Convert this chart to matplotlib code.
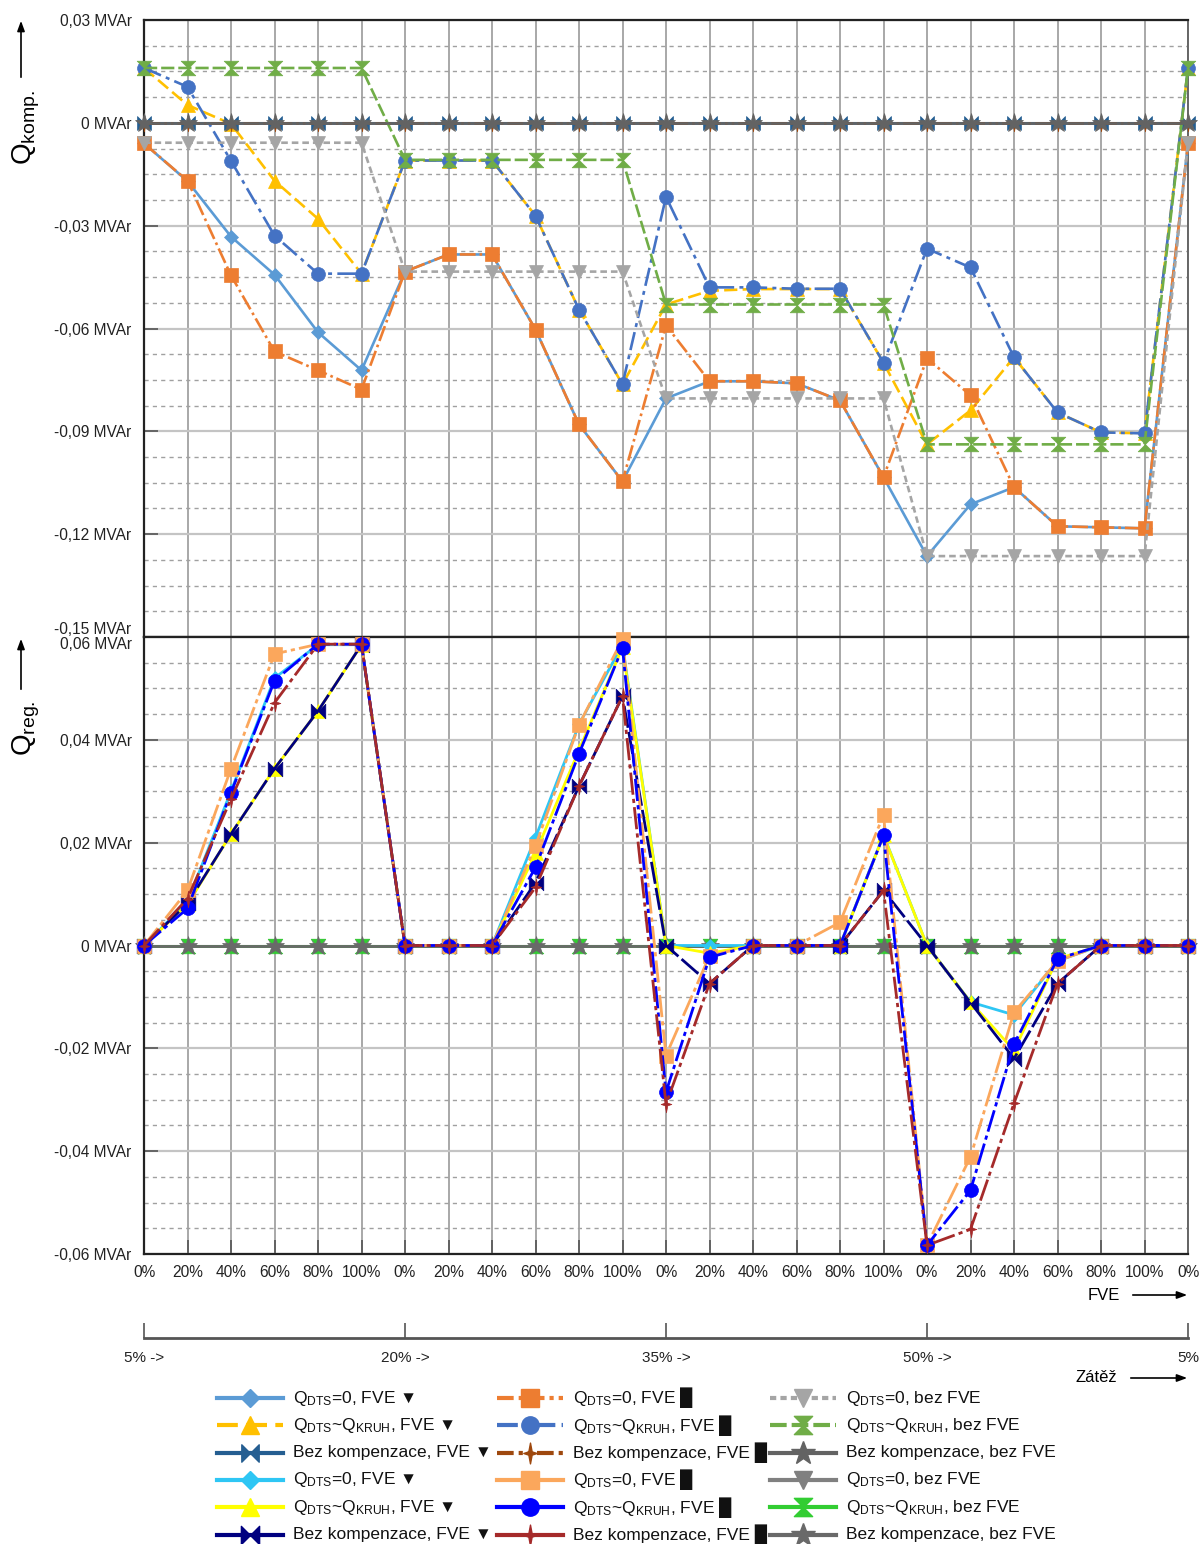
import numpy as np
import matplotlib
matplotlib.use("Agg")
import matplotlib.pyplot as plt
from matplotlib.path import Path
from matplotlib.ticker import FixedLocator, MultipleLocator

plt.rcParams['font.family'] = ['Liberation Sans', 'DejaVu Sans']
plt.rcParams['mathtext.fontset'] = 'custom'
plt.rcParams['mathtext.rm'] = 'Liberation Sans'
plt.rcParams['mathtext.it'] = 'Liberation Sans:italic'

W, H = 1199, 1544

# x axis: FVE output level within each load level (Zatez)
fveLevels = ["0%", "20%", "40%", "60%", "80%", "100%"]
loadLabels = ["5% ->", "20% ->", "35% ->", "50% ->", "5%"]
xLabels = fveLevels * 4 + ["0%"]
x = np.arange(len(xLabels))

# Q_komp [MVAr]
komp_q0_fveA = [-0.006, -0.017, -0.0332, -0.0443, -0.0611, -0.0722,
                -0.0434, -0.0384, -0.0384, -0.0603, -0.088, -0.1046,
                -0.0804, -0.0754, -0.0754, -0.076, -0.081, -0.1034,
                -0.1264, -0.1113, -0.1063, -0.1177, -0.118, -0.1183,
                -0.006]
komp_qk_fveA = [0.016, 0.0052, -0.0003, -0.0169, -0.028, -0.044,
                -0.011, -0.011, -0.011, -0.0271, -0.0545, -0.0763,
                -0.053, -0.049, -0.0485, -0.0485, -0.0485, -0.070,
                -0.0938, -0.0839, -0.0684, -0.0845, -0.0903, -0.0906,
                0.016]
komp_bez_fveA = [0, 0, 0, 0, 0, 0, 0, 0, 0, 0, 0, 0, 0,
                 0, 0, 0, 0, 0, 0, 0, 0, 0, 0, 0, 0]
komp_q0_fveB = [-0.006, -0.0169, -0.0445, -0.0667, -0.0722, -0.0778,
                -0.0434, -0.0384, -0.0384, -0.0603, -0.088, -0.1046,
                -0.0591, -0.0754, -0.0754, -0.076, -0.081, -0.1034,
                -0.0687, -0.0795, -0.1063, -0.1177, -0.118, -0.1183,
                -0.006]
komp_qk_fveB = [0.016, 0.0105, -0.0111, -0.0329, -0.044, -0.044,
                -0.011, -0.011, -0.011, -0.0271, -0.0545, -0.0763,
                -0.0216, -0.048, -0.048, -0.0484, -0.0484, -0.070,
                -0.0367, -0.0422, -0.0684, -0.0845, -0.0903, -0.0906,
                0.016]
komp_bez_fveB = [0, 0, 0, 0, 0, 0, 0, 0, 0, 0, 0, 0, 0,
                 0, 0, 0, 0, 0, 0, 0, 0, 0, 0, 0, 0]
komp_q0_noFve = [-0.0058, -0.0058, -0.0058, -0.0058, -0.0058, -0.0058,
                 -0.0434, -0.0434, -0.0434, -0.0434, -0.0434, -0.0434,
                 -0.0804, -0.0804, -0.0804, -0.0804, -0.0804, -0.0804,
                 -0.1264, -0.1264, -0.1264, -0.1264, -0.1264, -0.1264,
                 -0.0058]
komp_qk_noFve = [0.016, 0.016, 0.016, 0.016, 0.016, 0.016,
                 -0.0108, -0.0108, -0.0108, -0.0108, -0.0108, -0.0108,
                 -0.053, -0.053, -0.053, -0.053, -0.053, -0.053,
                 -0.0938, -0.0938, -0.0938, -0.0938, -0.0938, -0.0938,
                 0.016]
komp_bez_noFve = [0, 0, 0, 0, 0, 0, 0, 0, 0, 0, 0, 0, 0,
                  0, 0, 0, 0, 0, 0, 0, 0, 0, 0, 0, 0]

# Q_reg [MVAr]
reg_q0_fveA = [0, 0.0085, 0.03, 0.052, 0.0585, 0.0585,
               0, 0, 0, 0.021, 0.043, 0.0585,
               0, 0, 0, 0, 0, 0.0215,
               0, -0.011, -0.0135, -0.003, 0, 0, 0]
reg_qk_fveA = [0, 0.008, 0.0217, 0.0344, 0.0456, 0.0585,
               0, 0, 0, 0.018, 0.038, 0.058,
               0, -0.0015, 0, 0, 0, 0.0214,
               0, -0.011, -0.0204, -0.0026, 0, 0, 0]
reg_bez_fveA = [0, 0.0082, 0.0217, 0.0344, 0.0456, 0.0585,
                0, 0, 0, 0.0122, 0.031, 0.0485,
                0, -0.0074, 0, 0, 0, 0.0107,
                0, -0.0111, -0.022, -0.0074, 0, 0, 0]
reg_q0_fveB = [0, 0.0107, 0.0344, 0.0567, 0.0586, 0.0586,
               0, 0, 0, 0.0194, 0.0429, 0.0596,
               -0.0214, -0.002, 0, 0, 0.0045, 0.0254,
               -0.0583, -0.0411, -0.013, -0.003, 0, 0, 0]
reg_qk_fveB = [0, 0.0072, 0.0297, 0.0515, 0.0586, 0.0586,
               0, 0, 0, 0.0152, 0.0373, 0.0579,
               -0.0285, -0.0023, 0, 0, 0, 0.0214,
               -0.0583, -0.0476, -0.0192, -0.0026, 0, 0, 0]
reg_bez_fveB = [0, 0.0091, 0.0285, 0.0472, 0.0586, 0.0586,
                0, 0, 0, 0.0113, 0.031, 0.0485,
                -0.0309, -0.0074, 0, 0, 0, 0.0107,
                -0.0583, -0.0552, -0.0307, -0.0074, 0, 0, 0]
reg_q0_noFve = [0, 0, 0, 0, 0, 0, 0, 0, 0, 0, 0, 0, 0,
                0, 0, 0, 0, 0, 0, 0, 0, 0, 0, 0, 0]
reg_qk_noFve = [0, 0, 0, 0, 0, 0, 0, 0, 0, 0, 0, 0, 0,
                0, 0, 0, 0, 0, 0, 0, 0, 0, 0, 0, 0]
reg_bez_noFve = [0, 0, 0, 0, 0, 0, 0, 0, 0, 0, 0, 0, 0,
                 0, 0, 0, 0, 0, 0, 0, 0, 0, 0, 0, 0]

# custom markers
bowtie = Path([(-1, -1), (-1, 1), (0, 0), (1, 1), (1, -1), (0, 0), (-1, -1)],
              [Path.MOVETO] + [Path.LINETO] * 5 + [Path.CLOSEPOLY])
hourglass = Path([(-1, 1), (1, 1), (0, 0), (1, -1), (-1, -1), (0, 0), (-1, 1)],
                 [Path.MOVETO] + [Path.LINETO] * 5 + [Path.CLOSEPOLY])
star4 = Path([(0, 1.4), (0.22, 0.22), (0.9, 0), (0.22, -0.22), (0, -1.4),
              (-0.22, -0.22), (-0.9, 0), (-0.22, 0.22), (0, 1.4)],
             [Path.MOVETO] + [Path.LINETO] * 7 + [Path.CLOSEPOLY])

TRI = " \u25BC"
BLK = " \u2588"
lblQ0 = r"Q$_{\mathregular{DTS}}$=0, FVE"
lblQK = r"Q$_{\mathregular{DTS}}$~Q$_{\mathregular{KRUH}}$, FVE"
lblBez = "Bez kompenzace, FVE"
lblQ0n = r"Q$_{\mathregular{DTS}}$=0, bez FVE"
lblQKn = r"Q$_{\mathregular{DTS}}$~Q$_{\mathregular{KRUH}}$, bez FVE"
lblBezn = "Bez kompenzace, bez FVE"

# (values, label, color, line style in chart, line style in legend, marker, size)
kompSeries = [
    (komp_q0_fveA, lblQ0 + TRI, '#5B9BD5', '-', '-', 'D', 7.5),
    (komp_qk_fveA, lblQK + TRI, '#FFC000', (0, (5, 2)), (0, (5, 2)), '^', 10),
    (komp_bez_fveA, lblBez + TRI, '#255E91', '-', '-', bowtie, 10),
    (komp_q0_fveB, lblQ0 + BLK, '#ED7D31', (0, (6, 1.5, 1, 1.5)), (0, (4, 1.2, 1, 1.2)), 's', 10),
    (komp_qk_fveB, lblQK + BLK, '#4472C4', (0, (7, 2, 1.5, 2)), (0, (5, 1.5, 1, 1.5)), 'o', 10),
    (komp_bez_fveB, lblBez + BLK, '#9E480E', (0, (6, 1.5, 1, 1.5, 1, 1.5)), (0, (4, 1.2, 1, 1.2, 1, 1.2)), star4, 12),
    (komp_q0_noFve, lblQ0n, '#A5A5A5', (0, (2.5, 1.5)), (0, (1.5, 1)), 'v', 10),
    (komp_qk_noFve, lblQKn, '#70AD47', (0, (5, 1.5)), (0, (4, 1.2)), hourglass, 10.5),
    (komp_bez_noFve, lblBezn, '#636363', '-', '-', '*', 14),
]
regSeries = [
    (reg_q0_fveA, lblQ0 + TRI, '#2EC6F4', '-', '-', 'D', 7.5),
    (reg_qk_fveA, lblQK + TRI, '#FFFF00', '-', '-', '^', 10),
    (reg_bez_fveA, lblBez + TRI, '#000080', (0, (8, 1.5)), '-', bowtie, 10.5),
    (reg_q0_fveB, lblQ0 + BLK, '#FBA75C', (0, (8, 1.5, 1.5, 1.5)), '-', 's', 10),
    (reg_qk_fveB, lblQK + BLK, '#0000FF', (0, (8, 1.5, 1.5, 1.5)), '-', 'o', 10),
    (reg_bez_fveB, lblBez + BLK, '#A52A2A', (0, (8, 1.5, 1.5, 1.5)), '-', star4, 12),
    (reg_q0_noFve, lblQ0n, '#808080', '-', '-', 'v', 10),
    (reg_qk_noFve, lblQKn, '#32CD32', '-', '-', hourglass, 10.5),
    (reg_bez_noFve, lblBezn, '#696969', '-', '-', '*', 14),
]

fig = plt.figure(figsize=(W / 100, H / 100), dpi=100)
left, width = 144 / W, 1044 / W
axK = fig.add_axes([left, 1 - 637 / H, width, 617 / H])
axR = fig.add_axes([left, 1 - 1254 / H, width, 617 / H])


def mvar(v):
    if abs(v) < 1e-9:
        return "0 MVAr"
    return ("%.2f" % v).replace('.', ',') + " MVAr"


def styleAxis(ax, ylo, yhi, major, minor):
    ax.set_xlim(0, 24)
    ax.set_ylim(ylo, yhi)
    ticks = np.round(np.arange(ylo, yhi + major / 2, major), 4)
    ax.yaxis.set_major_locator(FixedLocator(ticks))
    ax.set_yticklabels([mvar(t) for t in ticks])
    ax.yaxis.set_minor_locator(MultipleLocator(minor))
    ax.set_xticks(x)
    ax.grid(which='major', axis='x', color='#a8a8a8', lw=1.4, ls='-')
    ax.grid(which='major', axis='y', color='#c4c4c4', lw=1.6, ls='-')
    ax.grid(which='minor', axis='y', color='#a0a0a0', lw=1.0, ls=(0, (3, 3)))
    ax.set_axisbelow(True)
    ax.tick_params(axis='y', which='major', direction='in', length=10, width=1.2,
                   color='#555555', labelsize=11.2, pad=9, labelcolor='#222222')
    ax.tick_params(axis='y', which='minor', length=0)
    for s in ['left', 'top', 'bottom']:
        ax.spines[s].set_color('#222222')
        ax.spines[s].set_linewidth(1.6)
    ax.spines['right'].set_color('#666666')
    ax.spines['right'].set_linewidth(1.4)


styleAxis(axK, -0.15, 0.03, 0.03, 0.0075)
styleAxis(axR, -0.06, 0.06, 0.02, 0.005)
axK.tick_params(axis='x', length=0, labelbottom=False)
axR.set_xticklabels(xLabels)
axR.tick_params(axis='x', direction='in', length=10, width=1.2, color='#555555',
                labelsize=11.2, pad=8, labelcolor='#222222')

# the two panels share one border: shift the colliding labels apart
axK.yaxis.get_major_ticks()[0].label1.set_va('bottom')
axR.yaxis.get_major_ticks()[-1].label1.set_va('top')

for vals, lbl, c, ls, _, m, ms in kompSeries:
    axK.plot(x, vals, color=c, lw=1.9, ls=ls, marker=m, ms=ms, mfc=c, mec=c,
             mew=0.5, clip_on=False, zorder=3)

# without FVE the curves are flat; draw them first so the FVE markers stay on top
regOrder = regSeries[6:] + regSeries[:6]
for vals, lbl, c, ls, _, m, ms in regOrder:
    axR.plot(x, vals, color=c, lw=2.0, ls=ls, marker=m, ms=ms, mfc=c, mec=c,
             mew=0.5, clip_on=False, zorder=3)

# axis captions with arrows
fig.text(26 / W, 1 - 128 / H, r"Q$_{\mathregular{komp.}}$", rotation=90,
         ha='center', va='center', fontsize=20)
fig.text(26 / W, 1 - 728 / H, r"Q$_{\mathregular{reg.}}$", rotation=90,
         ha='center', va='center', fontsize=20)
arrowKw = dict(arrowstyle='-|>,head_length=0.6,head_width=0.22', color='black', lw=1.2)
fig.add_artist(plt.Annotation('', xy=(21, H - 18), xytext=(21, H - 80),
                              xycoords='figure pixels', arrowprops=arrowKw))
fig.add_artist(plt.Annotation('', xy=(21, H - 636), xytext=(21, H - 692),
                              xycoords='figure pixels', arrowprops=arrowKw))
fig.add_artist(plt.Annotation('', xy=(1190, H - 1295), xytext=(1130, H - 1295),
                              xycoords='figure pixels', arrowprops=arrowKw))
fig.add_artist(plt.Annotation('', xy=(1190, H - 1378), xytext=(1128, H - 1378),
                              xycoords='figure pixels', arrowprops=arrowKw))
fig.text(1120 / W, 1 - 1295 / H, "FVE", ha='right', va='center', fontsize=12)
fig.text(1117 / W, 1 - 1378 / H, "Zátěž", ha='right', va='center', fontsize=12)

# load level axis
axL = fig.add_axes([left, 1 - 1338 / H, width, 0.0001])
axL.set_xlim(0, 24)
axL.set_yticks([])
for s in ['left', 'right', 'top']:
    axL.spines[s].set_visible(False)
axL.spines['bottom'].set_color('#555555')
axL.spines['bottom'].set_linewidth(2)
axL.set_xticks([0, 6, 12, 18, 24])
axL.set_xticklabels(loadLabels)
axL.tick_params(axis='x', direction='in', length=11, width=1.2, color='#555555',
                labelsize=11, pad=9, labelcolor='#222222')
axL.patch.set_visible(False)

# legend: 3 columns x 6 rows, laid out in figure pixels
legAx = fig.add_axes([0, 0, 1, 1])
legAx.set_xlim(0, W)
legAx.set_ylim(H, 0)
legAx.axis('off')
columns = [kompSeries[0:3] + regSeries[0:3],
           kompSeries[3:6] + regSeries[3:6],
           kompSeries[6:9] + regSeries[6:9]]
colX = [217, 497, 770]
for cx, entries in zip(colX, columns):
    for row, (vals, lbl, c, _, lls, m, ms) in enumerate(entries):
        ry = 1398 + 27.3 * row
        legAx.plot([cx, cx + 33, cx + 66], [ry, ry, ry], color=c, lw=3, ls=lls,
                   marker=m, markevery=[1], ms=ms * 1.25, mfc=c, mec=c)
        legAx.text(cx + 76, ry, lbl, ha='left', va='center', fontsize=12.5,
                   color='#111111')

fig.savefig("out.png", dpi=100)
